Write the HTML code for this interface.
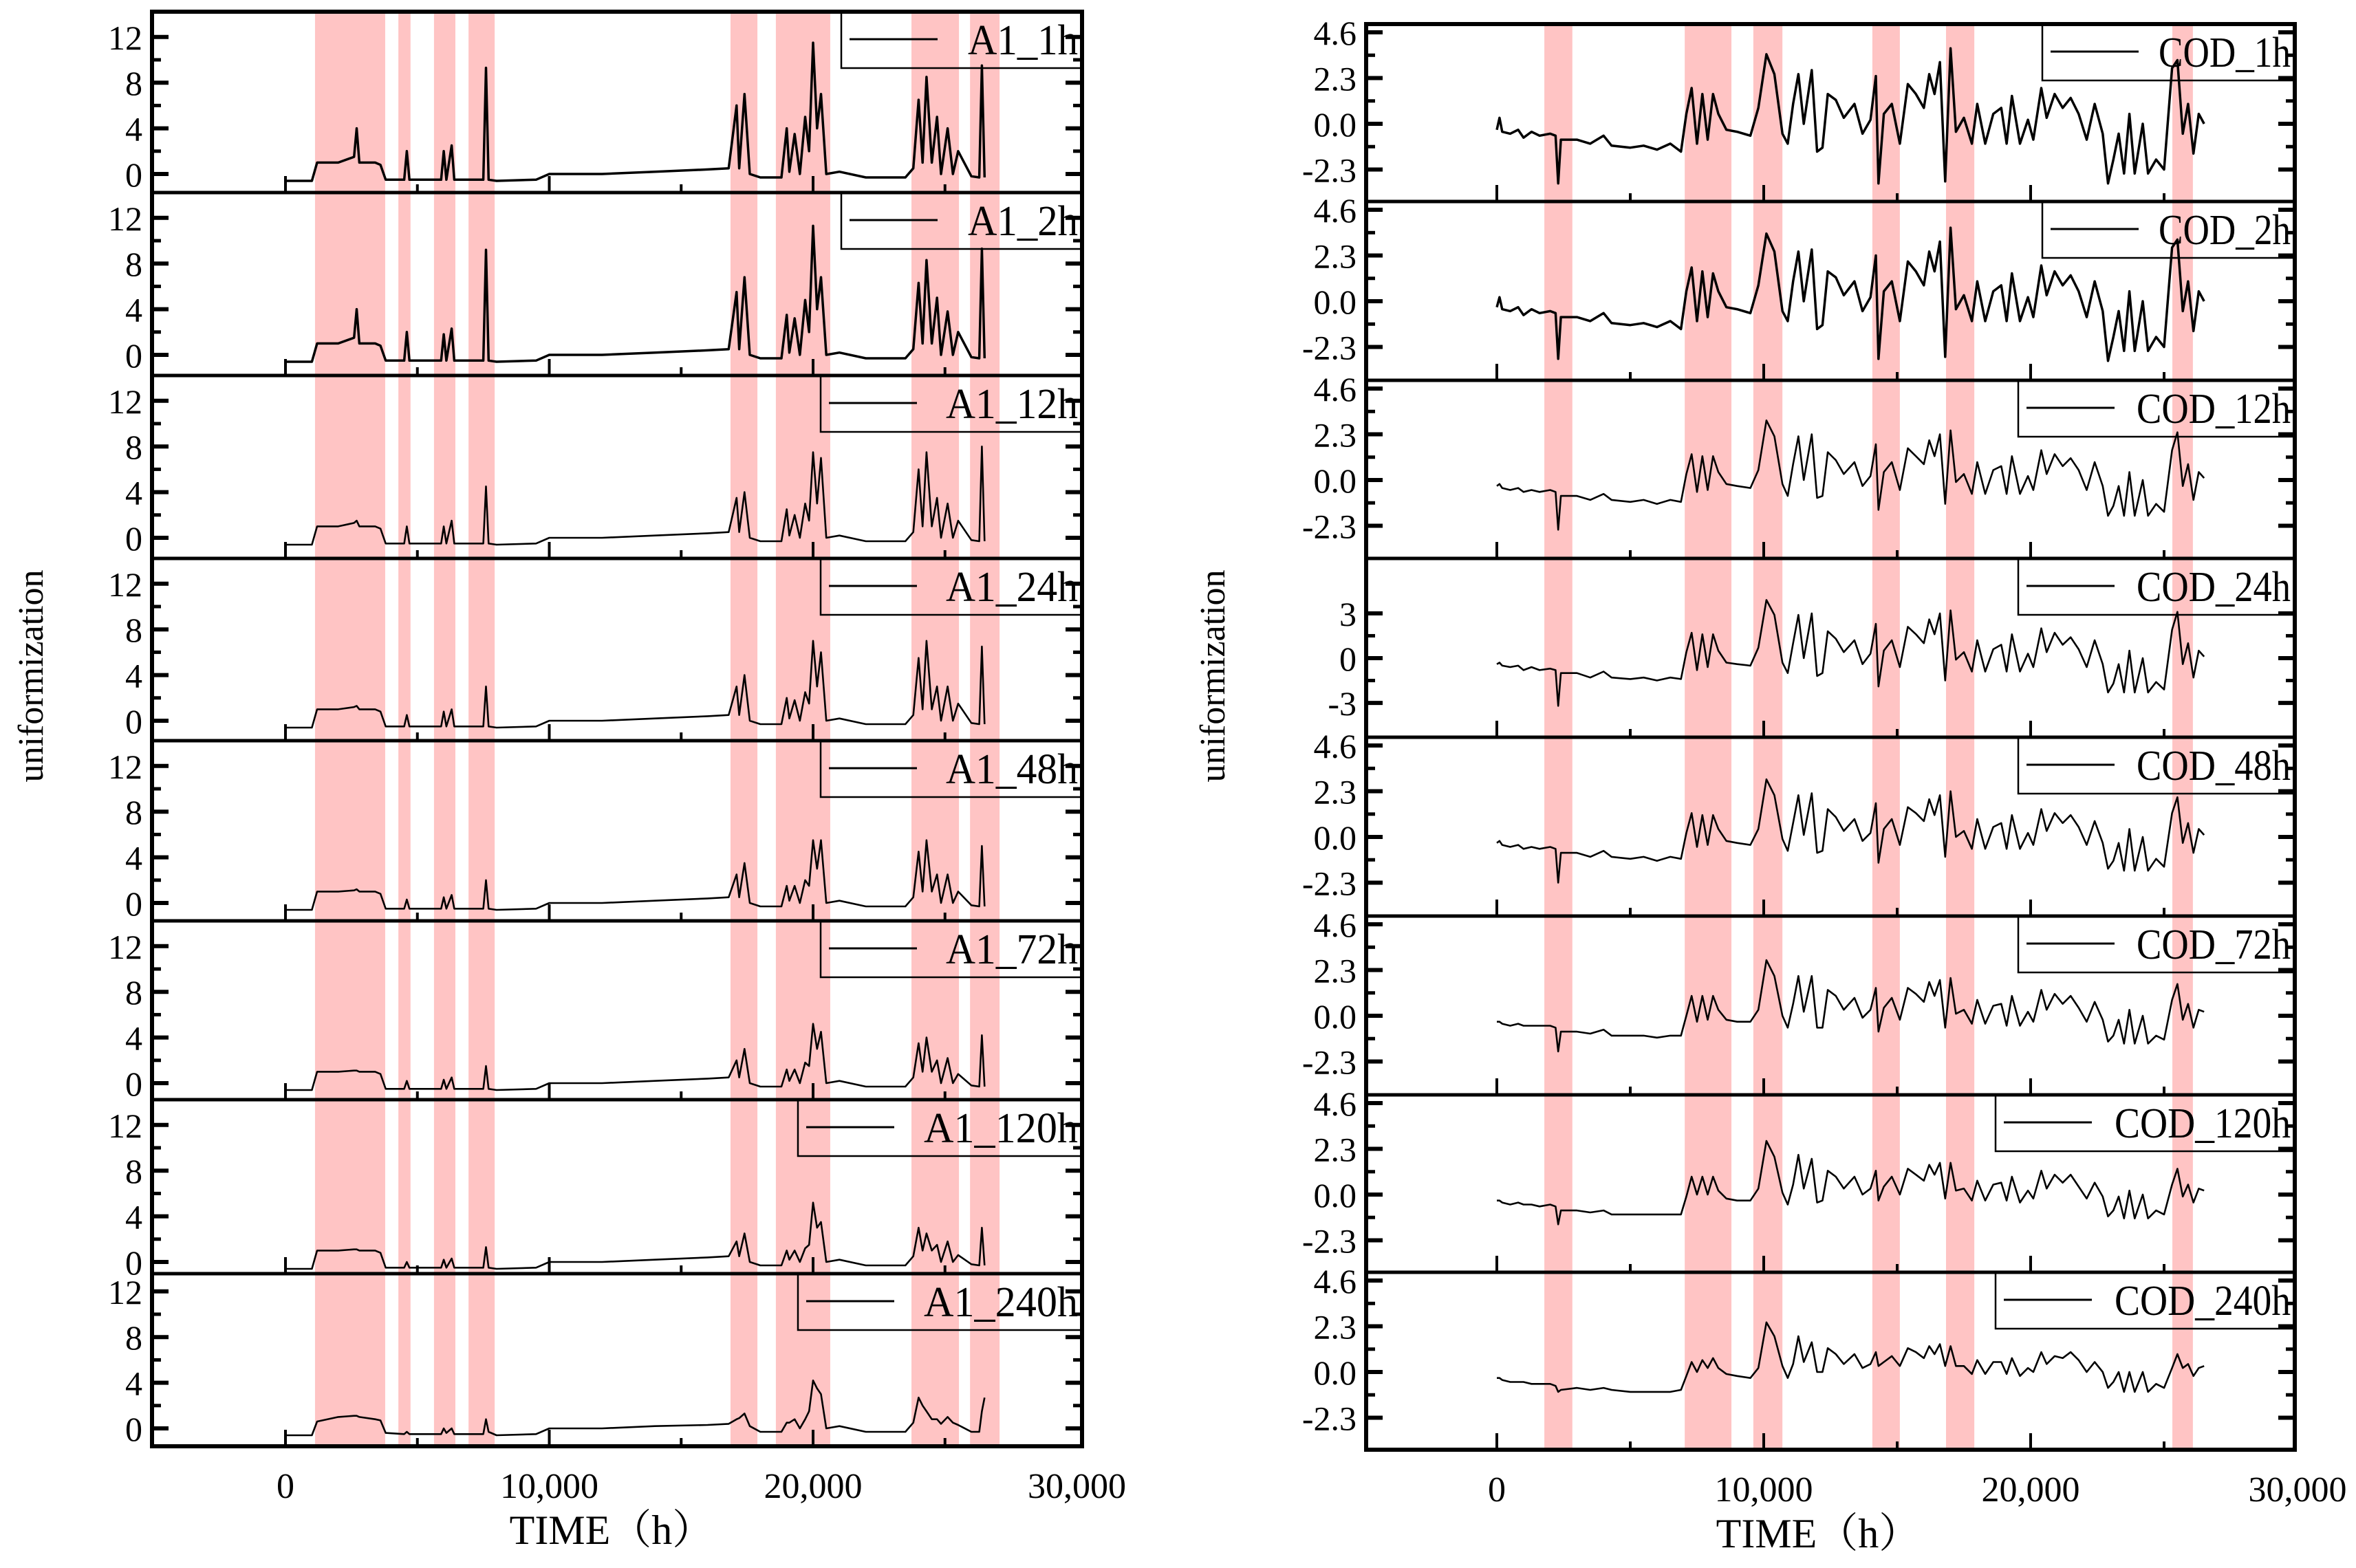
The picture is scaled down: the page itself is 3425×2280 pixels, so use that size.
<!DOCTYPE html>
<html><head><meta charset="utf-8"><style>
html,body{margin:0;padding:0;background:#fff}
svg{display:block}
text{font-family:"Liberation Serif","Noto Serif CJK SC",serif;fill:#000}
</style></head><body>
<svg id="chart" width="3425" height="2280" viewBox="0 0 3425 2280" xmlns="http://www.w3.org/2000/svg"></svg>
<script>
// ---------- data ----------
const a1Labels = ["A1_1h","A1_2h","A1_12h","A1_24h","A1_48h","A1_72h","A1_120h","A1_240h"];
const codLabels = ["COD_1h","COD_2h","COD_12h","COD_24h","COD_48h","COD_72h","COD_120h","COD_240h"];
const xTicks = [0,10000,20000,30000];
const xTickLabels = ["0","10,000","20,000","30,000"];
const a1YTicks = [0,4,8,12];
const codYTicks = [-2.3,0,2.3,4.6];
const codYTickLabels = ["-2.3","0.0","2.3","4.6"];
const cod24YTicks = [-3,0,3];
const a1Bands = [[1120,3780],[4280,4740],[5630,6440],[6940,7930],[16870,17890],[18590,20650],[23730,25530],[25950,27070]];
const codBands = [[1780,2830],[7040,8790],[9610,10700],[14070,15100],[16830,17890],[25310,26080]];

const a1Time = [0,200,1000,1200,2000,2600,2700,2800,3400,3600,3800,4500,4600,4700,5900,6000,6100,6300,6400,7500,7600,7700,8000,9500,10000,12000,14000,16000,16800,17100,17200,17400,17600,18000,18800,19000,19100,19300,19500,19700,19850,20000,20150,20300,20500,21000,22000,23500,23800,24000,24150,24300,24500,24700,24850,25100,25300,25500,26000,26300,26400,26500];
const a1_1h = [-0.6,-0.6,-0.6,1.0,1.0,1.5,4.0,1.0,1.0,0.8, -0.5,-0.5,2.0,-0.5,-0.5,2.0,-0.5,2.5,-0.5,-0.5, 9.3,-0.5,-0.6,-0.5,0.0,0.0,0.2,0.4,0.5,6.0, 0.5,7.0,0.0,-0.3,-0.3,4.0,0.2,3.5,0.0,5.0, 2.0,11.5,4.0,7.0,0.0,0.2,-0.3,-0.3,0.5,6.5, 1.0,8.5,1.0,5.0,0.0,4.0,0.0,2.0,-0.2,-0.3, 9.5,-0.3];
const a1_2h = [-0.6,-0.6,-0.6,1.0,1.0,1.5,4.0,1.0,1.0,0.8, -0.5,-0.5,2.0,-0.5,-0.5,1.8,-0.5,2.3,-0.5,-0.5, 9.2,-0.5,-0.6,-0.5,0.0,0.0,0.2,0.4,0.5,5.5, 0.5,6.8,0.0,-0.3,-0.3,3.5,0.2,3.2,0.0,4.8, 2.0,11.3,4.0,6.8,0.0,0.2,-0.3,-0.3,0.5,6.3, 1.0,8.3,1.0,5.0,0.0,3.8,0.0,2.0,-0.2,-0.3, 9.3,-0.3];
const a1_12h = [-0.6,-0.6,-0.6,1.0,1.0,1.3,1.5,1.0,1.0,0.8, -0.5,-0.5,1.0,-0.5,-0.5,1.0,-0.5,1.5,-0.5,-0.5, 4.5,-0.5,-0.6,-0.5,0.0,0.0,0.2,0.4,0.5,3.5, 0.5,4.0,0.0,-0.3,-0.3,2.5,0.2,2.0,0.0,3.0, 1.5,7.5,3.0,7.0,0.0,0.2,-0.3,-0.3,0.5,6.0, 1.0,7.5,1.0,3.5,0.0,3.0,0.0,1.5,-0.2,-0.3, 8.0,-0.3];
const a1_24h = [-0.6,-0.6,-0.6,1.0,1.0,1.2,1.3,1.0,1.0,0.8, -0.5,-0.5,0.5,-0.5,-0.5,0.8,-0.5,1.0,-0.5,-0.5, 3.0,-0.5,-0.6,-0.5,0.0,0.0,0.2,0.4,0.5,3.0, 0.5,4.0,0.0,-0.3,-0.3,2.0,0.2,1.8,0.0,2.5, 1.5,7.0,3.0,6.0,0.0,0.2,-0.3,-0.3,0.5,5.5, 1.0,7.0,1.0,3.0,0.0,3.0,0.0,1.5,-0.2,-0.3, 6.5,-0.3];
const a1_48h = [-0.6,-0.6,-0.6,1.0,1.0,1.1,1.2,1.0,1.0,0.8, -0.5,-0.5,0.3,-0.5,-0.5,0.5,-0.5,0.7,-0.5,-0.5, 2.0,-0.5,-0.6,-0.5,0.0,0.0,0.2,0.4,0.5,2.5, 0.5,3.5,0.0,-0.3,-0.3,1.5,0.2,1.5,0.0,2.0, 1.5,5.5,3.0,5.5,0.0,0.2,-0.3,-0.3,0.5,4.5, 1.0,5.5,1.0,2.5,0.0,2.5,0.0,1.0,-0.2,-0.3, 5.0,-0.3];
const a1_72h = [-0.6,-0.6,-0.6,1.0,1.0,1.1,1.1,1.0,1.0,0.8, -0.5,-0.5,0.2,-0.5,-0.5,0.3,-0.5,0.5,-0.5,-0.5, 1.5,-0.5,-0.6,-0.5,0.0,0.0,0.2,0.4,0.5,2.0, 0.5,3.0,0.0,-0.3,-0.3,1.2,0.2,1.2,0.0,1.8, 1.5,5.2,3.0,4.5,0.0,0.2,-0.3,-0.3,0.5,3.5, 1.0,4.0,1.0,2.0,0.0,2.2,0.0,0.8,-0.2,-0.3, 4.2,-0.3];
const a1_120h = [-0.6,-0.6,-0.6,1.0,1.0,1.1,1.1,1.0,1.0,0.8, -0.5,-0.5,0.0,-0.5,-0.5,0.2,-0.5,0.3,-0.5,-0.5, 1.3,-0.5,-0.6,-0.5,0.0,0.0,0.2,0.4,0.5,1.8, 0.5,2.5,0.0,-0.3,-0.3,1.0,0.2,1.0,0.0,1.2, 1.5,5.2,3.0,3.5,0.0,0.2,-0.3,-0.3,0.5,3.0, 1.0,2.5,1.0,1.5,0.0,1.8,0.0,0.6,-0.2,-0.3, 3.0,-0.3];
const a1_240h = [-0.6,-0.6,-0.6,0.6,1.0,1.1,1.1,1.0,0.8,0.7, -0.4,-0.5,-0.3,-0.5,-0.5,0.0,-0.4,0.0,-0.5,-0.5, 0.8,-0.3,-0.6,-0.5,0.0,0.0,0.2,0.3,0.4,0.8, 0.9,1.3,0.2,-0.3,-0.3,0.5,0.5,0.8,0.0,0.8, 1.5,4.2,3.5,3.0,0.0,0.2,-0.3,-0.3,0.5,2.7, 2.0,1.5,0.8,0.8,0.4,1.0,0.5,0.3,-0.3,-0.3, 1.5,2.7];

const codTime = [0,100,200,500,800,1000,1300,1600,2000,2200, 2300,2400,3000,3500,4000,4300,5000,5500,6000,6500, 6900,7100,7300,7500,7700,7900,8100,8300,8600,9000, 9500,9800,10100,10400,10700,10900,11100,11300,11500,11800, 12000,12200,12400,12700,13000,13400,13700,14000,14200,14300, 14500,14800,15100,15400,15700,16000,16200,16400,16600,16800, 17000,17200,17500,17800,18000,18300,18600,18900,19100,19300, 19600,19900,20100,20400,20600,20900,21200,21500,21800,22100, 22400,22700,22900,23100,23300,23500,23700,23900,24200,24400, 24700,25000,25300,25500,25700,25900,26100,26300,26500];
const cod_1h = [-0.3,0.3,-0.4,-0.5,-0.3,-0.7,-0.4,-0.6,-0.5,-0.6, -3.0,-0.8,-0.8,-1.0,-0.6,-1.1,-1.2,-1.1,-1.3,-1.0, -1.4,0.5,1.8,-1.0,1.5,-0.8,1.5,0.5,-0.3,-0.4, -0.6,0.8,3.5,2.5,-0.5,-1.0,1.0,2.5,0.0,2.7, -1.4,-1.2,1.5,1.2,0.3,1.0,-0.5,0.2,2.4,-3.0, 0.5,1.0,-1.0,2.0,1.5,0.8,2.5,1.5,3.1,-2.9, 3.8,-0.4,0.3,-1.0,1.0,-1.0,0.5,0.8,-1.0,1.4, -1.0,0.2,-0.8,1.8,0.3,1.5,0.8,1.3,0.5,-0.8, 1.0,-0.5,-3.0,-1.8,-0.5,-2.5,0.5,-2.5,0.0,-2.5, -1.8,-2.3,2.8,3.2,-0.5,1.0,-1.5,0.5,0.0];
const cod_2h = [-0.3,0.2,-0.4,-0.5,-0.3,-0.7,-0.4,-0.6,-0.5,-0.6, -2.9,-0.8,-0.8,-1.0,-0.6,-1.1,-1.2,-1.1,-1.3,-1.0, -1.4,0.5,1.7,-1.0,1.5,-0.8,1.4,0.5,-0.3,-0.4, -0.6,0.8,3.4,2.5,-0.5,-1.0,1.0,2.5,0.0,2.6, -1.4,-1.2,1.5,1.2,0.3,1.0,-0.5,0.2,2.3,-2.9, 0.5,1.0,-1.0,2.0,1.5,0.8,2.5,1.5,3.0,-2.8, 3.7,-0.4,0.3,-1.0,1.0,-1.0,0.5,0.8,-1.0,1.4, -1.0,0.2,-0.8,1.8,0.3,1.5,0.8,1.3,0.5,-0.8, 1.0,-0.5,-3.0,-1.8,-0.5,-2.5,0.5,-2.5,0.0,-2.5, -1.8,-2.3,2.7,3.1,-0.5,1.0,-1.5,0.5,0.0];
const cod_12h = [-0.3,-0.2,-0.4,-0.5,-0.4,-0.6,-0.5,-0.6,-0.5,-0.6, -2.5,-0.8,-0.8,-1.0,-0.7,-1.0,-1.1,-1.0,-1.2,-1.0, -1.1,0.3,1.3,-0.6,1.2,-0.5,1.2,0.4,-0.2,-0.3, -0.4,0.5,3.0,2.2,-0.2,-0.8,0.8,2.2,0.0,2.3, -0.9,-0.8,1.4,1.0,0.3,0.9,-0.3,0.2,1.8,-1.5, 0.4,0.9,-0.5,1.6,1.2,0.8,2.0,1.2,2.3,-1.2, 2.5,-0.1,0.3,-0.7,0.9,-0.7,0.5,0.7,-0.7,1.2, -0.7,0.2,-0.5,1.5,0.3,1.3,0.7,1.1,0.5,-0.5, 0.9,-0.3,-1.8,-1.3,-0.3,-1.8,0.4,-1.8,0.0,-1.8, -1.2,-1.6,1.5,2.4,-0.3,0.8,-1.0,0.4,0.1];
const cod_24h = [-0.4,-0.3,-0.5,-0.6,-0.5,-0.8,-0.6,-0.8,-0.7,-0.8, -3.2,-1.0,-1.0,-1.3,-0.9,-1.3,-1.4,-1.3,-1.5,-1.3, -1.4,0.4,1.7,-0.8,1.6,-0.6,1.6,0.5,-0.3,-0.4, -0.5,0.7,3.9,2.9,-0.3,-1.0,1.0,2.9,0.0,3.0, -1.2,-1.0,1.8,1.3,0.4,1.2,-0.4,0.3,2.3,-1.9, 0.5,1.2,-0.6,2.1,1.6,1.0,2.6,1.6,3.0,-1.5, 3.2,-0.1,0.4,-0.9,1.2,-0.9,0.6,0.9,-0.9,1.6, -0.9,0.3,-0.6,2.0,0.4,1.7,0.9,1.4,0.6,-0.6, 1.2,-0.4,-2.3,-1.7,-0.4,-2.3,0.5,-2.3,0.0,-2.3, -1.6,-2.1,1.9,3.1,-0.4,1.0,-1.3,0.5,0.1];
const cod_48h = [-0.3,-0.2,-0.4,-0.5,-0.4,-0.6,-0.5,-0.6,-0.5,-0.6, -2.3,-0.8,-0.8,-1.0,-0.7,-1.0,-1.1,-1.0,-1.2,-1.0, -1.1,0.2,1.2,-0.5,1.1,-0.4,1.1,0.4,-0.2,-0.3, -0.4,0.4,2.9,2.1,-0.1,-0.7,0.7,2.1,0.1,2.2, -0.8,-0.7,1.4,1.0,0.3,0.9,-0.2,0.2,1.7,-1.3, 0.4,0.9,-0.4,1.5,1.2,0.8,1.9,1.1,2.1,-1.0, 2.3,0.0,0.3,-0.6,0.9,-0.6,0.5,0.7,-0.6,1.1, -0.6,0.2,-0.4,1.4,0.3,1.2,0.7,1.1,0.5,-0.4, 0.8,-0.3,-1.6,-1.2,-0.3,-1.7,0.4,-1.7,0.0,-1.7, -1.1,-1.5,1.2,2.0,-0.3,0.7,-0.8,0.4,0.1];
const cod_72h = [-0.3,-0.3,-0.4,-0.5,-0.4,-0.5,-0.5,-0.5,-0.5,-0.6, -1.8,-0.8,-0.8,-0.9,-0.7,-1.0,-1.0,-1.0,-1.1,-1.0, -1.0,0.0,1.0,-0.3,1.0,-0.2,1.0,0.3,-0.2,-0.3, -0.3,0.3,2.8,2.0,0.0,-0.6,0.6,2.0,0.2,2.0, -0.6,-0.6,1.3,1.0,0.3,0.9,-0.1,0.3,1.4,-0.8, 0.4,0.9,-0.2,1.4,1.1,0.7,1.7,1.0,1.8,-0.6, 1.9,0.1,0.3,-0.4,0.8,-0.4,0.5,0.6,-0.5,1.0, -0.5,0.2,-0.3,1.3,0.3,1.1,0.6,1.0,0.4,-0.3, 0.7,-0.2,-1.3,-1.0,-0.2,-1.4,0.3,-1.4,0.0,-1.4, -1.0,-1.2,0.8,1.6,-0.2,0.6,-0.6,0.3,0.2];
const cod_120h = [-0.3,-0.3,-0.4,-0.5,-0.4,-0.5,-0.5,-0.6,-0.5,-0.6, -1.5,-0.8,-0.8,-0.9,-0.8,-1.0,-1.0,-1.0,-1.0,-1.0, -1.0,-0.1,0.9,0.0,0.9,0.0,0.9,0.2,-0.2,-0.3, -0.3,0.3,2.7,1.9,0.1,-0.5,0.5,2.0,0.3,1.8, -0.4,-0.3,1.2,0.9,0.3,0.9,0.0,0.3,1.2,-0.3, 0.4,0.9,0.0,1.3,1.0,0.7,1.5,1.0,1.6,-0.2, 1.6,0.2,0.3,-0.3,0.7,-0.3,0.5,0.6,-0.3,0.9, -0.4,0.2,-0.2,1.2,0.3,1.0,0.6,1.0,0.4,-0.2, 0.6,-0.1,-1.1,-0.8,-0.1,-1.2,0.2,-1.2,0.0,-1.2, -0.8,-1.0,0.5,1.3,-0.1,0.5,-0.4,0.3,0.2];
const cod_240h = [-0.3,-0.3,-0.4,-0.5,-0.5,-0.5,-0.6,-0.6,-0.6,-0.7, -1.0,-0.9,-0.8,-0.9,-0.8,-0.9,-1.0,-1.0,-1.0,-1.0, -0.9,-0.2,0.5,0.0,0.6,0.2,0.7,0.2,-0.1,-0.2, -0.3,0.2,2.5,1.8,0.3,-0.3,0.4,1.8,0.5,1.5, 0.0,0.0,1.2,0.9,0.4,0.9,0.2,0.4,1.0,0.3, 0.5,0.8,0.3,1.2,1.0,0.7,1.3,0.9,1.4,0.3, 1.3,0.3,0.3,-0.1,0.6,-0.1,0.5,0.5,-0.1,0.7, -0.2,0.2,0.0,1.0,0.4,0.8,0.7,1.0,0.6,0.0, 0.5,0.0,-0.8,-0.5,0.0,-1.0,0.0,-1.0,0.0,-1.0, -0.6,-0.8,0.2,0.9,0.2,0.4,-0.2,0.2,0.3];

const a1Series = [a1_1h,a1_2h,a1_12h,a1_24h,a1_48h,a1_72h,a1_120h,a1_240h];
const codSeries = [cod_1h,cod_2h,cod_12h,cod_24h,cod_48h,cod_72h,cod_120h,cod_240h];

// ---------- drawing ----------
const svg = document.getElementById('chart');
const NS = 'http://www.w3.org/2000/svg';
function mk(tag, attrs, parent){
  const e = document.createElementNS(NS, tag);
  for (const k in attrs) e.setAttribute(k, attrs[k]);
  (parent||svg).appendChild(e);
  return e;
}

function drawStack(cfg){
  const g = mk('g', {});
  
  
  const xs = v => cfg.x0px + v * cfg.pxPer;
  const top = cfg.edges[0], bottom = cfg.edges[8];
  cfg.bands.forEach((b, i) => {
    const r = mk('rect', {x: xs(b[0]), y: top, width: xs(b[1]) - xs(b[0]), height: bottom - top, fill: '#ffc4c4'}, g);
    
    
  });
  for (let p = 0; p < 8; p++){
    const pt = cfg.edges[p], pb = cfg.edges[p+1];
    const pg = mk('g', {}, g);
    
    
    const sp = cfg.special && cfg.special.panel === p;
    const unit = sp ? cfg.special.unit : cfg.unit;
    const zOff = (p === 7 && cfg.lastZero) ? cfg.lastZero : cfg.zeroOff;
    const ys = v => pt + zOff - v * unit;
    const ticks = sp ? cfg.special.ticks : cfg.yTicks;
    const tlabels = sp ? cfg.special.ticks.map(String) : cfg.yTickLabels;
    ticks.forEach((t, i) => {
      const y = ys(t);
      mk('line', {x1: cfg.left, x2: cfg.left + 24, y1: y, y2: y, stroke: '#000', 'stroke-width': 6}, pg);
      mk('line', {x1: cfg.right - 24, x2: cfg.right, y1: y, y2: y, stroke: '#000', 'stroke-width': 6}, pg);
      const tx = mk('text', {x: cfg.left - 14, y: y + 18, 'font-size': 50, 'text-anchor': 'end'}, pg);
      tx.textContent = tlabels[i];
      
      
      if (i < ticks.length - 1){
        const m = ys((t + ticks[i+1]) / 2);
        mk('line', {x1: cfg.left, x2: cfg.left + 13, y1: m, y2: m, stroke: '#000', 'stroke-width': 5}, pg);
        mk('line', {x1: cfg.right - 13, x2: cfg.right, y1: m, y2: m, stroke: '#000', 'stroke-width': 5}, pg);
      }
    });
    [0,5000,10000,15000,20000,25000].forEach(t => {
      const L = t % 10000 === 0 ? 24 : 12;
      mk('line', {x1: xs(t), x2: xs(t), y1: pb, y2: pb - L, stroke: '#000', 'stroke-width': 4}, pg);
    });
    const data = cfg.series[p];
    let d = '';
    cfg.time.forEach((t, i) => { d += (i ? 'L' : 'M') + xs(t).toFixed(1) + ',' + ys(data[i]).toFixed(1); });
    const path = mk('path', {d: d, fill: 'none', stroke: '#000', 'stroke-width': p < 2 ? 3.5 : 2.6, 'stroke-linejoin': 'round'}, pg);
    
    
    const lx = cfg.legendX[p];
    const lg = mk('g', {}, pg);
    
    
    mk('rect', {x: lx, y: pt, width: cfg.right - lx, height: 82, fill: 'none', stroke: '#000', 'stroke-width': 2.5}, lg);
    mk('line', {x1: lx + 12, x2: lx + 140, y1: pt + 40, y2: pt + 40, stroke: '#000', 'stroke-width': 3}, lg);
    const lab = cfg.labels[p];
    const lt = mk('text', {x: cfg.right - 6, y: pt + 62, 'font-size': 62, 'text-anchor': 'end', textLength: lab.length * 32, lengthAdjust: 'spacingAndGlyphs'}, lg);
    lt.textContent = lab;
    mk('line', {x1: cfg.left, x2: cfg.right, y1: pb, y2: pb, stroke: '#000', 'stroke-width': 5}, pg);
  }
  const fr = mk('rect', {x: cfg.left, y: top, width: cfg.right - cfg.left, height: bottom - top, fill: 'none', stroke: '#000', 'stroke-width': 6}, g);
  
  
  xTicks.forEach((t, i) => {
    const tx = mk('text', {x: xs(t), y: bottom + 75, 'font-size': 52, 'text-anchor': 'middle'}, g);
    tx.textContent = xTickLabels[i];
    
    
  });
  const xt = mk('text', {x: cfg.xTitleX, y: bottom + 142, 'font-size': 60, 'text-anchor': 'middle', 'font-family': '"Liberation Mono","Noto Sans CJK SC",monospace'}, g);
  xt.textContent = 'TIME（h）';
  
  
  const yt = mk('text', {x: cfg.yTitleX, y: 983, 'font-size': 52, 'text-anchor': 'middle', 'font-family': '"Liberation Mono",monospace', transform: 'rotate(-90 ' + cfg.yTitleX + ' 983)'}, g);
  yt.textContent = 'uniformization';
  
  
}

drawStack({name: 'a1-chart', left: 221, right: 1573, edges: [17,280,546,812,1077,1339,1599,1852,2103], x0px: 415, pxPer: 0.03835,
  unit: 16.6, zeroOff: 236, lastZero: 225, yTicks: a1YTicks, yTickLabels: a1YTicks.map(String),
  bands: a1Bands, labels: a1Labels, series: a1Series, time: a1Time,
  legendX: [1223,1223,1193,1193,1193,1193,1160,1160], xTitleX: 889, yTitleX: 62});

drawStack({name: 'cod-chart', left: 1986, right: 3336, edges: [35,293,553,812,1072,1332,1592,1850,2108], x0px: 2176, pxPer: 0.0388,
  unit: 28.9, zeroOff: 145, yTicks: codYTicks, yTickLabels: codYTickLabels,
  special: {panel: 3, ticks: cod24YTicks, unit: 21.7},
  bands: codBands, labels: codLabels, series: codSeries, time: codTime,
  legendX: [2969,2969,2934,2934,2934,2934,2901,2901], xTitleX: 2643, yTitleX: 1780});
</script>
</body></html>
